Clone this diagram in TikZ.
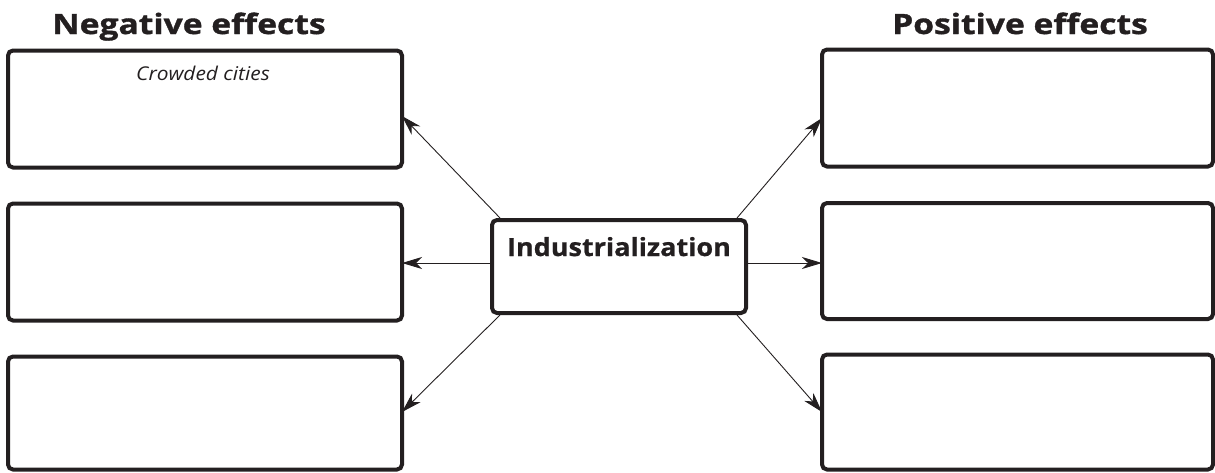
\documentclass[tikz,border=0pt]{standalone}
\usepackage{fontspec}
\setmainfont{Open Sans}
\newfontfamily\titlefont{Open Sans}[FakeStretch=1.2,FakeBold=1.2]
\newfontfamily\centerfont{Open Sans}[FakeStretch=1.08,FakeBold=0.8]
\newfontfamily\handfont{Open Sans}[FakeStretch=1.1]
\usetikzlibrary{arrows.meta}
\definecolor{ink}{HTML}{231F20}
\begin{document}
\begin{tikzpicture}[x=1pt,y=-1pt,
  box/.style={draw=ink,line width=4pt,rounded corners=5pt},
  conn/.style={draw=ink,line width=0.9pt,-{Stealth[length=20pt,width=12pt,inset=6pt]}},
  title/.style={font=\titlefont\fontsize{28}{32}\selectfont\bfseries,text=ink,inner sep=0pt},
  ctitle/.style={font=\centerfont\fontsize{25}{30}\selectfont\bfseries,text=ink,inner sep=0pt}]
\useasboundingbox (0,0) rectangle (1215,472);
% boxes as nodes
\node[box,minimum width=394pt,minimum height=117pt] (n1) at (205,109) {};
\node[box,minimum width=394pt,minimum height=117pt] (n2) at (205,262) {};
\node[box,minimum width=394pt,minimum height=113pt] (n3) at (205,413) {};
\node[box,minimum width=391pt,minimum height=117pt] (p1) at (1017.5,108) {};
\node[box,minimum width=391pt,minimum height=116pt] (p2) at (1017.5,261) {};
\node[box,minimum width=391pt,minimum height=115pt] (p3) at (1017.5,412) {};
\node[box,minimum width=254pt,minimum height=93pt] (c) at (619,266.5) {};
\node[ctitle,anchor=base] (ct) at (619,256) {Industrialization};
\node[title,anchor=base] (tn) at (189,34) {Negative effects};
\node[title,anchor=base] (tp) at (1020,34) {Positive effects};
\node[font=\handfont\fontsize{19}{22}\selectfont\itshape,text=ink,anchor=base,inner sep=0pt] (cc) at (203,80) {Crowded cities};
% connector endpoints
\coordinate (a1s) at (500,218); \coordinate (a1e) at (402,116);
\coordinate (a2s) at (492,263); \coordinate (a2e) at (402,263);
\coordinate (a3s) at (500,315); \coordinate (a3e) at (402,412);
\coordinate (b1s) at (737,218); \coordinate (b1e) at (822,118);
\coordinate (b2s) at (746,263); \coordinate (b2e) at (822,263);
\coordinate (b3s) at (737,315); \coordinate (b3e) at (822,412);
\draw[conn] (a1s) -- (a1e);
\draw[conn] (a2s) -- (a2e);
\draw[conn] (a3s) -- (a3e);
\draw[conn] (b1s) -- (b1e);
\draw[conn] (b2s) -- (b2e);
\draw[conn] (b3s) -- (b3e);
\end{tikzpicture}
\end{document}
